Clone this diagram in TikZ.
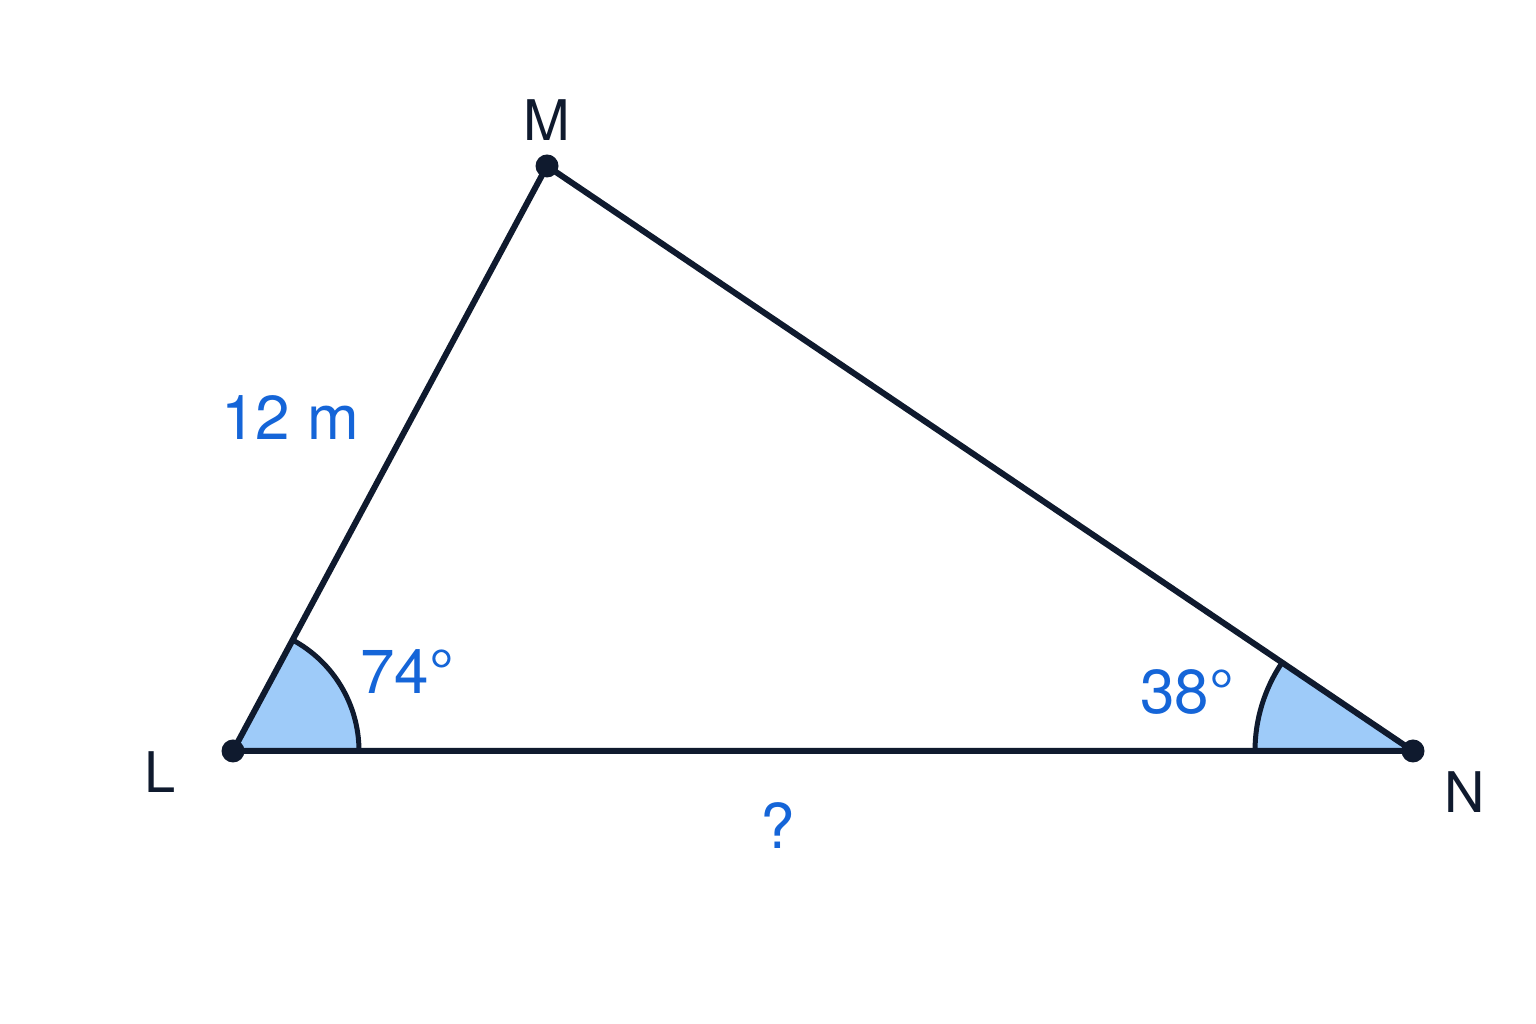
\documentclass[tikz,border=0pt]{standalone}
\usepackage{fontspec}
\setmainfont{TeX Gyre Heros}
\usetikzlibrary{calc}
\definecolor{lineC}{HTML}{0F1A2E}
\definecolor{fillC}{HTML}{9ECBF9}
\definecolor{txtB}{HTML}{1565D8}
\begin{document}
\begin{tikzpicture}[x=1pt,y=1pt,
  side/.style={draw=lineC,line width=6pt,line join=round},
  angfill/.style={fill=fillC},
  angarc/.style={draw=lineC,line width=5pt},
  vdot/.style={circle,fill=lineC,inner sep=0pt,minimum size=23pt},
  vlabel/.style={text=lineC,font=\fontsize{56}{64}\selectfont},
  blab/.style={text=txtB,font=\fontsize{62}{70}\selectfont}]
\useasboundingbox (0,0) rectangle (1536,1024);
\fill[white] (0,0) rectangle (1536,1024);
\coordinate (L) at (233,273);
\coordinate (M) at (547,858);
\coordinate (N) at (1413,273);
% angle fills
\fill[angfill] (L) -- ++(0:126pt) arc[start angle=0,end angle=61.78,radius=126pt] -- cycle;
\fill[angfill] (N) -- ++(180:158pt) arc[start angle=180,end angle=145.96,radius=158pt] -- cycle;
\draw[angarc] ($(L)+(0:126pt)$) arc[start angle=0,end angle=61.78,radius=126pt];
\draw[angarc] ($(N)+(180:158pt)$) arc[start angle=180,end angle=145.96,radius=158pt];
% sides
\draw[side] (L) -- (M) -- (N) -- cycle;
% vertices
\node[vdot] (dL) at (L) {};
\node[vdot] (dM) at (M) {};
\node[vdot] (dN) at (N) {};
% labels
\node[vlabel] (lM) at (547,904) {M};
\node[vlabel] (lL) at (160,252) {L};
\node[vlabel] (lN) at (1465,232) {N};
\node[blab] (s1) at (290,606) {12 m};
\node[blab] (a1) at (407,352) {74°};
\node[blab] (a2) at (1187,332) {38°};
\node[blab] (q) at (778,198) {?};
\end{tikzpicture}
\end{document}
